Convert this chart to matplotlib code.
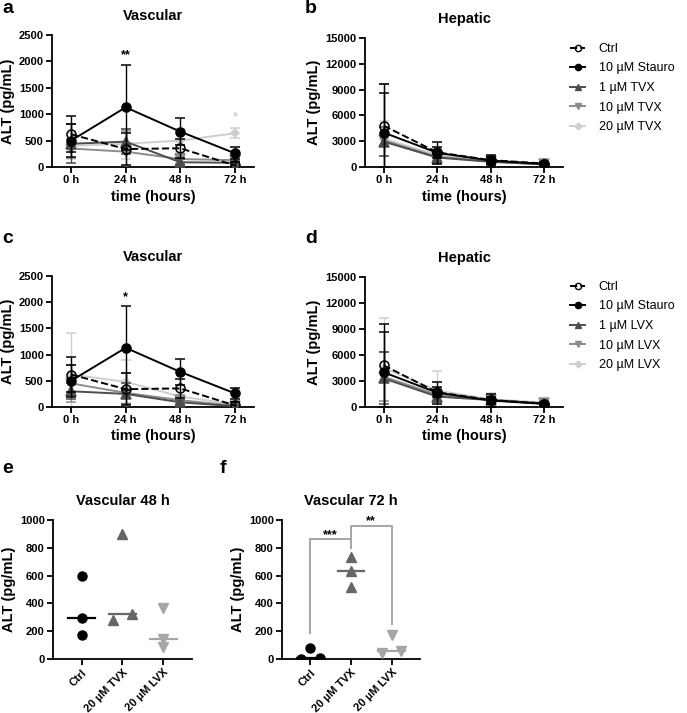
import matplotlib
matplotlib.use("Agg")
import matplotlib.pyplot as plt
from matplotlib.lines import Line2D
import numpy as np

plt.rcParams['font.family'] = ['Liberation Sans', 'DejaVu Sans']
plt.rcParams['axes.linewidth'] = 1.3

# ---- data ----
times = ['0 h', '24 h', '48 h', '72 h']

# vascular, shared controls
vasc_ctrl = [620, 340, 355, 30]
vasc_ctrl_sd = [340, 300, 180, 60]
vasc_stauro = [500, 1130, 670, 260]
vasc_stauro_sd = [310, 800, 250, 110]

vasc_tvx1 = [440, 480, 90, 80]
vasc_tvx1_sd = [370, 240, 60, 40]
vasc_tvx10 = [350, 290, 150, 130]
vasc_tvx10_sd = [180, 400, 90, 60]
vasc_tvx20 = [400, 440, 500, 640]
vasc_tvx20_sd = [250, 280, 220, 90]

vasc_lvx1 = [300, 250, 90, 15]
vasc_lvx1_sd = [150, 200, 50, 20]
vasc_lvx10 = [450, 270, 130, 25]
vasc_lvx10_sd = [350, 380, 70, 30]
vasc_lvx20 = [620, 480, 200, 50]
vasc_lvx20_sd = [800, 410, 120, 40]

# hepatic
hep_ctrl = [4800, 1700, 800, 400]
hep_ctrl_sd = [4800, 600, 400, 200]
hep_stauro = [4000, 1650, 750, 350]
hep_stauro_sd = [4600, 1250, 700, 250]

hep_tvx1 = [2950, 1100, 600, 300]
hep_tvx1_sd = [1700, 500, 300, 150]
hep_tvx10 = [3100, 1200, 650, 320]
hep_tvx10_sd = [6500, 600, 400, 150]
hep_tvx20 = [3300, 1400, 700, 350]
hep_tvx20_sd = [2000, 700, 400, 200]

hep_lvx1 = [3300, 1200, 800, 400]
hep_lvx1_sd = [3000, 600, 300, 200]
hep_lvx10 = [3500, 1400, 800, 420]
hep_lvx10_sd = [2800, 700, 400, 200]
hep_lvx20 = [4500, 1900, 900, 500]
hep_lvx20_sd = [5800, 2200, 700, 250]

# single time point panels
groups = ['Ctrl', '20 µM TVX', '20 µM LVX']
v48_ctrl = [595, 295, 175]
v48_tvx = [900, 280, 325]
v48_lvx = [365, 145, 88]
v72_ctrl = [79, 2, 10]
v72_tvx = [731, 635, 519]
v72_lvx = [175, 46, 58]

# ---- styles ----
C_DARK = '#4d4d4d'
C_MID = '#8c8c8c'
C_LIGHT = '#cfcfcf'
series_style = [
    dict(color='black', marker='o', mfc='none', ls='--'),
    dict(color='black', marker='o', mfc='black', ls='-'),
    dict(color=C_DARK, marker='^', mfc=C_DARK, ls='-'),
    dict(color=C_MID, marker='v', mfc=C_MID, ls='-'),
    dict(color=C_LIGHT, marker='D', mfc=C_LIGHT, ls='-'),
]
zorders = [5, 6, 4, 3, 2]

W, H = 687, 713
fig = plt.figure(figsize=(W / 100, H / 100), dpi=100)


def px_axes(l, t, r, b):
    return fig.add_axes([l / W, 1 - b / H, (r - l) / W, (b - t) / H])


def style_ax(ax):
    ax.spines['top'].set_visible(False)
    ax.spines['right'].set_visible(False)
    ax.tick_params(width=1.3, length=4, labelsize=8, pad=2)
    for lab in ax.get_xticklabels() + ax.get_yticklabels():
        lab.set_fontweight('bold')


def time_panel(ax, series, ymax, ystep, title):
    x = np.arange(len(times))
    order = [4, 3, 2, 0, 1]
    for i in order:
        m, sd = series[i]
        st = series_style[i]
        ax.errorbar(x, m, yerr=sd, color=st['color'], ls=st['ls'], lw=1.4,
                    marker=st['marker'], mfc=st['mfc'], mec=st['color'],
                    ms=6.5 if st['marker'] != 'D' else 4.5, mew=1.1,
                    capsize=3.5, elinewidth=1.0, capthick=1.0,
                    zorder=zorders[i])
    ax.set_xlim(-0.35, 3.35)
    ax.set_ylim(0, ymax)
    ax.set_xticks(x)
    ax.set_xticklabels(times)
    ax.set_yticks(np.arange(0, ymax + 1, ystep))
    ax.set_ylabel('ALT (pg/mL)', fontsize=10.5, fontweight='bold', labelpad=3)
    ax.set_xlabel('time (hours)', fontsize=10.5, fontweight='bold', labelpad=3)
    ax.set_title(title, fontsize=10.5, fontweight='bold', pad=11)
    style_ax(ax)


ax_a = px_axes(52, 35, 254, 167)
time_panel(ax_a, [(vasc_ctrl, vasc_ctrl_sd), (vasc_stauro, vasc_stauro_sd),
                  (vasc_tvx1, vasc_tvx1_sd), (vasc_tvx10, vasc_tvx10_sd),
                  (vasc_tvx20, vasc_tvx20_sd)], 2500, 500, 'Vascular')
ax_a.text(1, 2060, '**', ha='center', fontsize=9, fontweight='bold')
ax_a.text(3, 880, '*', ha='center', fontsize=9, fontweight='bold', color=C_LIGHT)

ax_b = px_axes(365, 38, 563, 167)
time_panel(ax_b, [(hep_ctrl, hep_ctrl_sd), (hep_stauro, hep_stauro_sd),
                  (hep_tvx1, hep_tvx1_sd), (hep_tvx10, hep_tvx10_sd),
                  (hep_tvx20, hep_tvx20_sd)], 15000, 3000, 'Hepatic')

ax_c = px_axes(52, 276, 254, 407)
time_panel(ax_c, [(vasc_ctrl, vasc_ctrl_sd), (vasc_stauro, vasc_stauro_sd),
                  (vasc_lvx1, vasc_lvx1_sd), (vasc_lvx10, vasc_lvx10_sd),
                  (vasc_lvx20, vasc_lvx20_sd)], 2500, 500, 'Vascular')
ax_c.text(1, 2040, '*', ha='center', fontsize=9, fontweight='bold')

ax_d = px_axes(365, 277, 563, 407)
time_panel(ax_d, [(hep_ctrl, hep_ctrl_sd), (hep_stauro, hep_stauro_sd),
                  (hep_lvx1, hep_lvx1_sd), (hep_lvx10, hep_lvx10_sd),
                  (hep_lvx20, hep_lvx20_sd)], 15000, 3000, 'Hepatic')


def legend_handles():
    hs = []
    for st in series_style:
        hs.append(Line2D([], [], color=st['color'], ls=st['ls'], lw=1.4,
                         marker=st['marker'], mfc=st['mfc'], mec=st['color'],
                         ms=4.5 if st['marker'] != 'D' else 3.5))
    return hs


leg_names_t = ['Ctrl', '10 µM Stauro', '1 µM TVX', '10 µM TVX', '20 µM TVX']
leg_names_l = ['Ctrl', '10 µM Stauro', '1 µM LVX', '10 µM LVX', '20 µM LVX']
for names, ytop in [(leg_names_t, 43), (leg_names_l, 281)]:
    fig.legend(legend_handles(), names, loc='upper left',
               bbox_to_anchor=(570 / W, 1 - ytop / H), frameon=False,
               fontsize=9, handlelength=1.2, handletextpad=1.1,
               labelspacing=0.6, borderaxespad=0, borderpad=0)

# ---- dot plots ----
dot_colors = ['black', '#666666', '#a6a6a6']
dot_markers = ['o', '^', 'v']


def dot_panel(ax, vals, offsets, title):
    for i, (v, off) in enumerate(zip(vals, offsets)):
        xs = i + np.array(off)
        ax.plot(xs, v, ls='none', marker=dot_markers[i], color=dot_colors[i],
                ms=6.5, zorder=3)
        med = np.median(v)
        ax.plot([i - 0.33, i + 0.33], [med, med], color=dot_colors[i], lw=1.6,
                zorder=2)
    ax.set_xlim(-0.7, 2.7)
    ax.set_ylim(0, 1000)
    ax.set_yticks(np.arange(0, 1001, 200))
    ax.set_xticks(range(len(groups)))
    ax.set_xticklabels(groups, rotation=45, ha='right', rotation_mode='anchor')
    ax.set_ylabel('ALT (pg/mL)', fontsize=10.5, fontweight='bold', labelpad=3)
    ax.set_title(title, fontsize=10.5, fontweight='bold', pad=11)
    style_ax(ax)


ax_e = px_axes(53, 520, 192, 659)
dot_panel(ax_e, [v48_ctrl, v48_tvx, v48_lvx],
          [[0, 0, 0], [0, -0.24, 0.24], [0, 0, 0]], 'Vascular 48 h')

ax_f = px_axes(282, 520, 420, 659)
dot_panel(ax_f, [v72_ctrl, v72_tvx, v72_lvx],
          [[0, -0.24, 0.24], [0, 0, 0], [0, -0.24, 0.24]], 'Vascular 72 h')
br = '#a6a6a6'
ax_f.plot([0, 0, 1, 1], [185, 860, 860, 795], color=br, lw=1.4, clip_on=False)
ax_f.plot([1, 1, 2, 2], [795, 958, 958, 250], color=br, lw=1.4, clip_on=False)
ax_f.text(0.5, 870, '***', ha='center', fontsize=9, fontweight='bold')
ax_f.text(1.5, 968, '**', ha='center', fontsize=9, fontweight='bold')

# panel letters
for lab, x, y in [('a', 2, 0), ('b', 305, 0), ('c', 2, 230), ('d', 305, 230),
                  ('e', 2, 460), ('f', 220, 460)]:
    fig.text(x / W, 1 - y / H, lab, fontsize=14, fontweight='bold', va='top')

fig.savefig('out.png', dpi=100)
